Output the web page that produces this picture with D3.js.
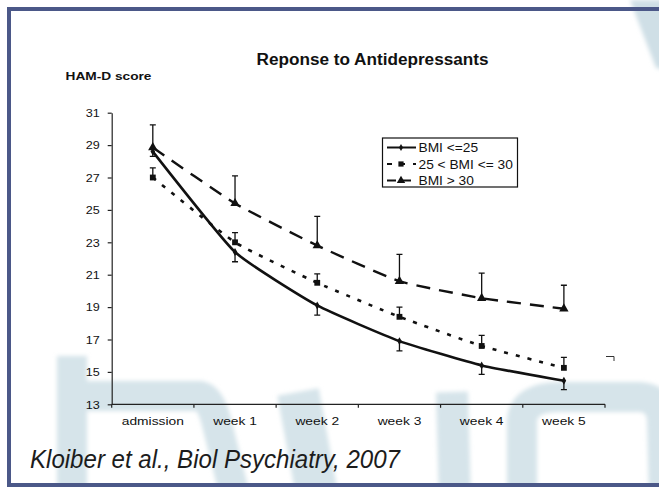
<!DOCTYPE html>
<html>
<head>
<meta charset="utf-8">
<script src="https://cdn.jsdelivr.net/npm/d3@7"></script>
<style>
  body { margin: 0; background: #fff; }
  svg { display: block; }
  text { font-family: "Liberation Sans", Arial, Helvetica, sans-serif; }
</style>
</head>
<body>
<svg id="chart" width="659" height="487"></svg>
<script>
// Visits on the x axis
const weeks = ["admission", "week 1", "week 2", "week 3", "week 4", "week 5"];
// HAM-D tick labels
const yTicks = [13, 15, 17, 19, 21, 23, 25, 27, 29, 31];
// Group names
const groupNames = ["BMI <=25", "25 < BMI <= 30", "BMI > 30"];
// Mean HAM-D score per visit and its error (SEM)
const bmiNormal    = [28.6, 22.4, 19.1, 16.9, 15.4, 14.45];
const bmiNormalErr = [0.3, 0.6, 0.6, 0.6, 0.55, 0.55];
const bmiOver      = [27.0, 23.0, 20.5, 18.4, 16.6, 15.25];
const bmiOverErr   = [0.6, 0.6, 0.55, 0.6, 0.65, 0.65];
const bmiObese     = [28.85, 25.4, 22.8, 20.6, 19.55, 18.9];
const bmiObeseErr  = [1.4, 1.7, 1.8, 1.65, 1.55, 1.45];

const svg = d3.select("#chart");

// ---- slide background: faint logo shapes ----
const defs = svg.append("defs");
defs.append("filter").attr("id", "soft")
  .attr("x", "-20%").attr("y", "-20%").attr("width", "140%").attr("height", "140%")
  .append("feGaussianBlur").attr("stdDeviation", 2);

const logo = svg.append("g").attr("filter", "url(#soft)")
  .attr("fill", "none").attr("stroke", "#d6e4ea")
  .attr("stroke-linejoin", "round");
logo.append("path").attr("stroke-width", 30)
  .attr("d", "M72,500 L72,356 M72,396 Q74,396 110,396 L200,396 Q210,398 216,420 L236,500");
logo.append("path").attr("stroke-width", 42)
  .attr("d", "M298,392 L318,500");
logo.append("path").attr("stroke-width", 32)
  .attr("d", "M452,392 L455,500");
logo.append("path").attr("stroke-width", 30)
  .attr("d", "M522,500 L522,420 Q524,397 560,397 L640,397 Q660,398 662,420 L664,500");
svg.append("polygon").attr("filter", "url(#soft)")
  .attr("fill", "#cfdfe6")
  .attr("points", "630,0 680,0 680,72 656,68");

// ---- slide frame ----
svg.append("rect")
  .attr("x", 9).attr("y", 9).attr("width", 700).attr("height", 476)
  .attr("fill", "none").attr("stroke", "#4b5888").attr("stroke-width", 4);

// ---- chart ----
const x = d3.scaleBand().domain(weeks).range([111.7, 605]);
const y = d3.scaleLinear().domain([13, 31]).range([404.3, 112.7]);
const cx = d => x(d) + x.bandwidth() / 2;

// y axis
const yAxis = svg.append("g")
  .attr("transform", `translate(${x.range()[0]},0)`)
  .call(d3.axisLeft(y).tickValues(yTicks).tickSize(4).tickSizeOuter(0));
yAxis.select(".domain").attr("stroke", "#222").attr("stroke-width", 1.2);
yAxis.selectAll(".tick line").attr("stroke", "#222").attr("stroke-width", 1.2);
yAxis.selectAll(".tick text")
  .attr("x", 0).attr("dy", "0.36em")
  .attr("transform", "translate(-12,0) scale(1.2,1)")
  .attr("font-size", 10.5).attr("fill", "#111");

// x axis: line, ticks at category boundaries, centred labels
const xAxis = svg.append("g").attr("transform", `translate(0,${y(13)})`);
xAxis.append("line")
  .attr("x1", x.range()[0]).attr("x2", x.range()[1])
  .attr("stroke", "#222").attr("stroke-width", 1.2);
const bounds = weeks.map(d => x(d)).concat([x.range()[1]]);
xAxis.selectAll("line.tk").data(bounds).join("line").attr("class", "tk")
  .attr("x1", d => d).attr("x2", d => d).attr("y1", 0).attr("y2", 3.5)
  .attr("stroke", "#222").attr("stroke-width", 1.2);
xAxis.selectAll("text").data(weeks).join("text")
  .attr("transform", d => `translate(${cx(d)},21) scale(1.2,1)`)
  .attr("text-anchor", "middle")
  .attr("font-size", 11.5).attr("fill", "#111")
  .text(d => d);

// series
const groups = [
  { name: groupNames[0], values: bmiNormal, err: bmiNormalErr, dir: -1,
    dash: null, width: 2.6, symbol: d3.symbolDiamond, size: 18 },
  { name: groupNames[1], values: bmiOver, err: bmiOverErr, dir: 1,
    dash: "4,8", width: 2.6, symbol: d3.symbolSquare, size: 34 },
  { name: groupNames[2], values: bmiObese, err: bmiObeseErr, dir: 1,
    dash: "14,9", width: 2.4, symbol: d3.symbolTriangle, size: 38 }
];

const line = d3.line()
  .x((v, i) => cx(weeks[i]))
  .y(v => y(v))
  .curve(d3.curveCardinal.tension(0.55));

groups.forEach(g => {
  const gg = svg.append("g");
  // error bars
  gg.selectAll("path.err").data(g.values).join("path").attr("class", "err")
    .attr("d", (v, i) => {
      const px = cx(weeks[i]);
      const y0 = y(v), y1 = y(v + g.dir * g.err[i]);
      return `M${px},${y0}L${px},${y1}M${px - 3},${y1}L${px + 3},${y1}`;
    })
    .attr("stroke", "#111").attr("stroke-width", 1.3).attr("fill", "none");
  // line
  gg.append("path").datum(g.values)
    .attr("d", line)
    .attr("fill", "none").attr("stroke", "#111")
    .attr("stroke-width", g.width)
    .attr("stroke-dasharray", g.dash);
  // markers
  gg.selectAll("path.mk").data(g.values).join("path").attr("class", "mk")
    .attr("transform", (v, i) => `translate(${cx(weeks[i])},${y(v)})`)
    .attr("d", d3.symbol().type(g.symbol).size(g.size))
    .attr("fill", "#111");
});

// small stray bracket right of the plot
svg.append("path").attr("d", "M606,356.5H614V361")
  .attr("fill", "none").attr("stroke", "#333").attr("stroke-width", 1);

// legend
const legend = svg.append("g");
legend.append("rect")
  .attr("x", 382.5).attr("y", 138).attr("width", 135).attr("height", 49)
  .attr("fill", "#fff").attr("stroke", "#111").attr("stroke-width", 1.2);
groups.forEach((g, i) => {
  const ly = 147.5 + i * 16.5;
  legend.append("line")
    .attr("x1", 387).attr("x2", 416).attr("y1", ly).attr("y2", ly)
    .attr("stroke", "#111").attr("stroke-width", 2)
    .attr("stroke-dasharray", g.dash ? (i === 1 ? "5,8" : "9,6") : null);
  legend.append("path")
    .attr("transform", `translate(401,${ly})`)
    .attr("d", d3.symbol().type(g.symbol).size(g.size * 0.8))
    .attr("fill", "#111");
  legend.append("text")
    .attr("transform", `translate(418.5,${ly + 4.6}) scale(1.1,1)`)
    .attr("font-size", 12.5).attr("fill", "#111")
    .text(g.name);
});

// titles
svg.append("text")
  .attr("x", 372.5).attr("y", 65).attr("text-anchor", "middle")
  .attr("font-size", 16).attr("font-weight", "bold").attr("fill", "#111")
  .attr("textLength", 232).attr("lengthAdjust", "spacingAndGlyphs")
  .text("Reponse to Antidepressants");
svg.append("text")
  .attr("x", 65.5).attr("y", 80)
  .attr("font-size", 11.5).attr("font-weight", "bold").attr("fill", "#111")
  .attr("textLength", 86).attr("lengthAdjust", "spacingAndGlyphs")
  .text("HAM-D score");

// citation
svg.append("text")
  .attr("x", 30).attr("y", 468)
  .attr("font-size", 25).attr("font-style", "italic").attr("fill", "#1c1c1c")
  .attr("textLength", 370).attr("lengthAdjust", "spacingAndGlyphs")
  .text("Kloiber et al., Biol Psychiatry, 2007");
</script>
</body>
</html>
